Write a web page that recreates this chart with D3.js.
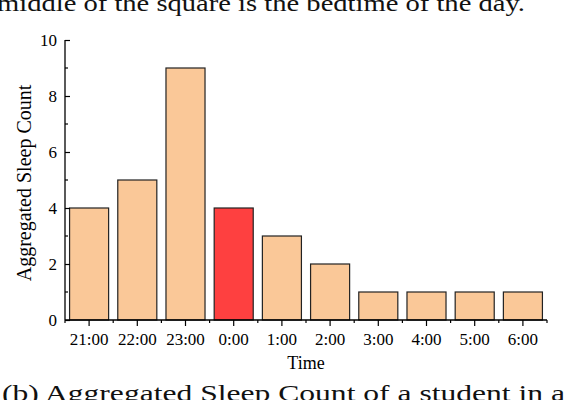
<!DOCTYPE html>
<html><head><meta charset="utf-8">
<script src="https://cdn.jsdelivr.net/npm/d3@7"></script>
<style>body{margin:0;background:#fff}svg{display:block}</style>
</head><body>
<script>
const categories = ["21:00","22:00","23:00","0:00","1:00","2:00","3:00","4:00","5:00","6:00"];
const counts = [4,5,9,4,3,2,1,1,1,1];
const highlight = ["0:00"];
const yTicks = [0,2,4,6,8,10];
const yMinorTicks = [1,3,5,7,9];

const W = 568, H = 400;
const svg = d3.select("body").append("svg").attr("width", W).attr("height", H);
const font = "'Liberation Serif','Times New Roman',serif";

const x = d3.scaleBand().domain(categories).range([65, 547]).paddingInner(0.19).paddingOuter(0.095);
const xb = d3.scaleBand().domain(categories).range([65, 547]);
const y = d3.scaleLinear().domain([0, 10]).range([320, 40]);

// captions
svg.append("text").attr("x", -3).attr("y", 11).attr("font-family", font).attr("font-size", 24)
  .attr("fill", "#111")
  .attr("textLength", 528).attr("lengthAdjust", "spacingAndGlyphs")
  .text("middle of the square is the bedtime of the day.");
svg.append("text").attr("x", 2).attr("y", 401).attr("font-family", font).attr("font-size", 23)
  .attr("fill", "#111")
  .attr("textLength", 563).attr("lengthAdjust", "spacingAndGlyphs")
  .text("(b) Aggregated Sleep Count of a student in a");

// bars
svg.append("g").selectAll("rect").data(categories).join("rect")
  .attr("x", d => x(d)).attr("width", x.bandwidth())
  .attr("y", (d, i) => y(counts[i])).attr("height", (d, i) => y(0) - y(counts[i]))
  .attr("fill", d => highlight.includes(d) ? "#fe4040" : "#fac898")
  .attr("stroke", "#222").attr("stroke-width", 1.2);

// y axis
const ya = svg.append("g").attr("transform", "translate(65,0)")
  .call(d3.axisLeft(y).tickValues(yTicks).tickSize(-5).tickPadding(8).tickFormat(d3.format("d")));
ya.select(".domain").attr("d", "M0,40V320").attr("stroke", "#000").attr("stroke-width", 1.3);
ya.selectAll(".tick line").attr("stroke", "#000").attr("stroke-width", 1.2);
ya.selectAll("text").attr("font-family", font).attr("font-size", 17).attr("fill", "#000");
ya.selectAll(".minor").data(yMinorTicks).join("line").attr("class", "minor")
  .attr("x1", 0).attr("x2", 3).attr("y1", d => y(d)).attr("y2", d => y(d))
  .attr("stroke", "#000").attr("stroke-width", 1.2);

// x axis
const xa = svg.append("g").attr("transform", "translate(0,320)")
  .call(d3.axisBottom(xb).tickSize(6).tickPadding(7));
xa.select(".domain").attr("d", "M65,0H547").attr("stroke", "#000").attr("stroke-width", 1.3);
xa.selectAll(".tick line").attr("stroke", "#000").attr("stroke-width", 1.2);
xa.selectAll("text").attr("font-family", font).attr("font-size", 17).attr("fill", "#000");
const bounds = categories.map(d => xb(d)).concat([547]);
xa.selectAll(".minor").data(bounds).join("line").attr("class", "minor")
  .attr("x1", d => d).attr("x2", d => d).attr("y1", 0).attr("y2", 3)
  .attr("stroke", "#000").attr("stroke-width", 1.2);

// titles
svg.append("text").attr("transform", "translate(31,183) rotate(-90)").attr("text-anchor", "middle")
  .attr("font-family", font).attr("font-size", 20).text("Aggregated Sleep Count");
svg.append("text").attr("x", 306).attr("y", 369).attr("text-anchor", "middle")
  .attr("font-family", font).attr("font-size", 18).text("Time");
</script>
</body></html>
